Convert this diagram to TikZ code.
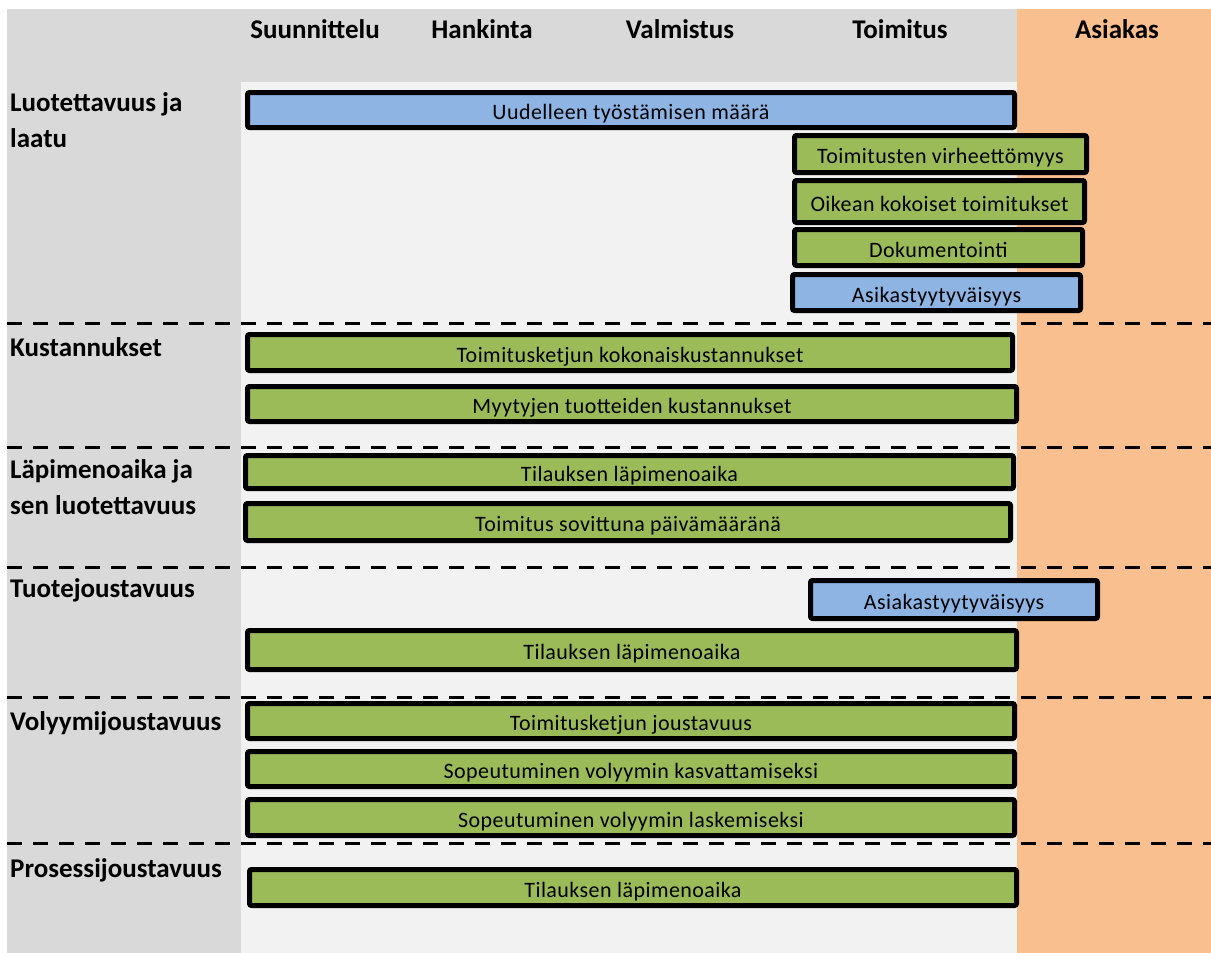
\documentclass[tikz,border=0pt]{standalone}
\usepackage{fontspec}
\setmainfont{Carlito}
\definecolor{panelgray}{HTML}{D9D9D9}
\definecolor{lanegray}{HTML}{F2F2F2}
\definecolor{custorange}{HTML}{F9BF8F}
\definecolor{kpigreen}{HTML}{9BBB59}
\definecolor{kpiblue}{HTML}{8EB4E3}
% one measure bar: name, outer left, top, right, bottom, fill, text
\newcommand\kpibar[7]{%
  \node[kpi, fill=#6, minimum width={#4-#2-5}, minimum height={#5-#3-5}]
    (#1) at ({(#2+#4)/2},{(#3+#5)/2}) {#7};}
\begin{document}
\begin{tikzpicture}[x=1pt, y=-1pt,
  kpi/.style={draw=black, line width=5pt, rounded corners=2pt, inner sep=0pt,
    text height=19pt, text depth=0pt,
    font=\fontsize{22}{24}\selectfont\addfontfeature{LetterSpace=2}, text=black},
  phase/.style={font=\bfseries\fontsize{27}{32}\selectfont, anchor=base},
  rowlabel/.style={font=\bfseries\fontsize{27}{36}\selectfont, anchor=base west,
    align=left, inner sep=0pt},
  divider/.style={line width=3pt, dash pattern=on 15pt off 11pt}]
  \useasboundingbox (0,0) rectangle (1211,953);
  % backgrounds
  \fill[white] (0,0) rectangle (1211,953);
  \fill[panelgray] (7,9) rectangle (1017,953);
  \fill[lanegray] (241,82) rectangle (1017,953);
  \fill[custorange] (1017,9) rectangle (1211,953);
  % phase headings
  \node[phase] (h1) at (315,38) {Suunnittelu};
  \node[phase] (h2) at (482,38) {Hankinta};
  \node[phase] (h3) at (680,38) {Valmistus};
  \node[phase] (h4) at (900,38) {Toimitus};
  \node[phase] (h5) at (1117,38) {Asiakas};
  % row headings (two-line ones are placed by their last line)
  \node[rowlabel] (r1) at (10,147) {Luotettavuus ja\\laatu};
  \node[rowlabel] (r2) at (10,356) {Kustannukset};
  \node[rowlabel] (r3) at (10,514) {Läpimenoaika ja\\sen luotettavuus};
  \node[rowlabel] (r4) at (10,597) {Tuotejoustavuus};
  \node[rowlabel] (r5) at (10,730) {Volyymijoustavuus};
  \node[rowlabel] (r6) at (10,877) {Prosessijoustavuus};
  % row dividers
  \foreach \yy in {323,447,567,697,843}
    \draw[divider] (7,\yy) -- (1211,\yy);
  % measures
  \kpibar{b1}{245}{90}{1017}{130}{kpiblue}{Uudelleen työstämisen määrä}
  \kpibar{b2}{792}{133}{1089}{175}{kpigreen}{Toimitusten virheettömyys}
  \kpibar{b3}{792}{178}{1087}{225}{kpigreen}{Oikean kokoiset toimitukset}
  \kpibar{b4}{792}{227}{1085}{268}{kpigreen}{Dokumentointi}
  \kpibar{b5}{790}{272}{1083}{313}{kpiblue}{Asikastyytyväisyys}
  \kpibar{b6}{245}{332}{1015}{373}{kpigreen}{Toimitusketjun kokonaiskustannukset}
  \kpibar{b7}{245}{384}{1019}{424}{kpigreen}{Myytyjen tuotteiden kustannukset}
  \kpibar{b8}{243}{453}{1016}{491}{kpigreen}{Tilauksen läpimenoaika}
  \kpibar{b9}{243}{501}{1013}{543}{kpigreen}{Toimitus sovittuna päivämääränä}
  \kpibar{b10}{808}{578}{1100}{621}{kpiblue}{Asiakastyytyväisyys}
  \kpibar{b11}{245}{628}{1019}{672}{kpigreen}{Tilauksen läpimenoaika}
  \kpibar{b12}{245}{701}{1017}{741}{kpigreen}{Toimitusketjun joustavuus}
  \kpibar{b13}{245}{749}{1017}{789}{kpigreen}{Sopeutuminen volyymin kasvattamiseksi}
  \kpibar{b14}{245}{797}{1017}{838}{kpigreen}{Sopeutuminen volyymin laskemiseksi}
  \kpibar{b15}{247}{867}{1019}{908}{kpigreen}{Tilauksen läpimenoaika}
\end{tikzpicture}
\end{document}
